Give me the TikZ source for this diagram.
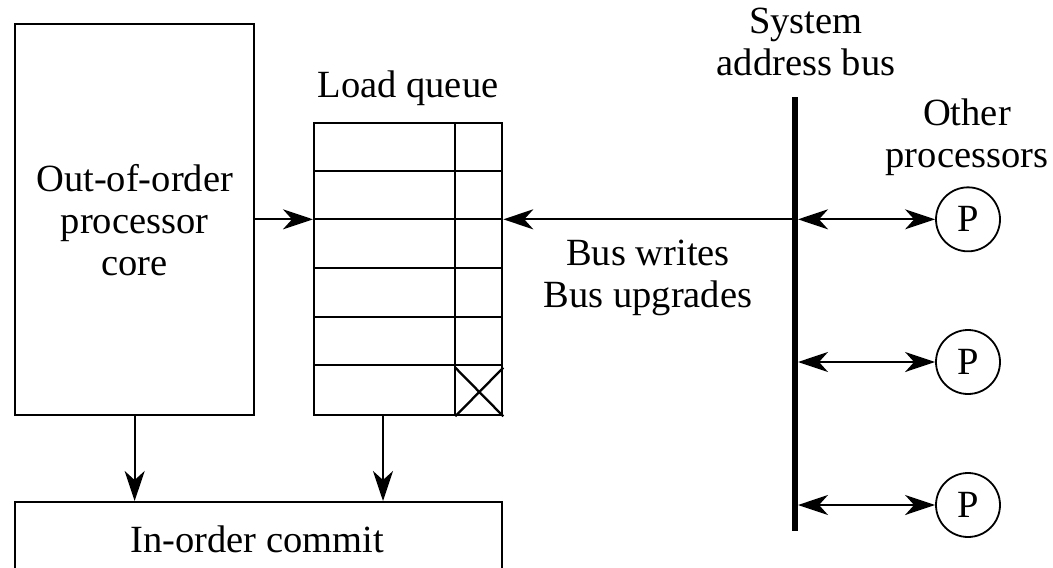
\documentclass[tikz,border=0pt]{standalone}
\usepackage{fontspec}
\setmainfont{Liberation Serif}
\usetikzlibrary{arrows.meta,calc}
\begin{document}
\begin{tikzpicture}[x=1pt,y=-1pt,
  line width=2.3pt,
  box/.style={draw, line width=2.3pt, inner sep=0pt, anchor=north west},
  tipa/.tip={Stealth[length=30pt,width=20pt,inset=9pt]},
  arr/.style={-tipa, line width=2.3pt},
  darr/.style={tipa-tipa, line width=2.3pt},
  lbl/.style={align=center, inner sep=0pt, font=\fontsize{38.5}{42}\selectfont},
  proc/.style={circle, draw, line width=1.8pt, minimum size=64pt, inner sep=0pt, font=\fontsize{38.5}{42}\selectfont}]
\useasboundingbox (0,0) rectangle (1053,568);
\clip (0,0) rectangle (1053,568);
% core
\node[box, minimum width=239pt, minimum height=391pt] (core) at (14,23) {};
\node[lbl] (coretext) at (core.center) {Out-of-order\\processor\\core};
% load queue
\node[box, minimum width=188pt, minimum height=292pt] (queue) at (313,122) {};
\foreach \i in {1,...,5}
  \draw ($(queue.north west)+(0,\i*48.667)$) -- ($(queue.north east)+(0,\i*48.667)$);
\draw ($(queue.north east)+(-48,0)$) -- ($(queue.south east)+(-48,0)$);
\draw ($(queue.south east)+(-48,-48.667)$) -- (queue.south east);
\draw ($(queue.south east)+(0,-48.667)$) -- ($(queue.south east)+(-48,0)$);
\node[lbl, anchor=base] (lq) at (408,97) {Load queue};
\coordinate (qrow) at ($(queue.north west)+(0,97.33)$);
% commit
\node[box, minimum width=487pt, minimum height=150pt] (commit) at (14,501) {};
\node[lbl, anchor=base] (ct) at (257,552) {In-order commit};
% arrows core/queue
\draw[arr] (core.east |- qrow) -- (qrow);
\draw[arr] (core.south) -- (core.south |- commit.north);
\coordinate (qbot) at ($(queue.south west)+(70,0)$);
\draw[arr] (qbot) -- (qbot |- commit.north);
% bus
\coordinate (bustop) at (795,97);
\coordinate (busbot) at (795,531);
\draw[line width=6pt] (bustop) -- (busbot);
\node[lbl, anchor=base] (sys) at (806,75) {System\\address bus};
\draw[arr] (bustop |- qrow) -- (queue.east |- qrow);
\node[lbl, anchor=base] (bw) at (648,307) {Bus writes\\Bus upgrades};
% processors
\node[lbl, anchor=base] (oth) at (967,167) {Other\\processors};
\node[proc] (p1) at (968,219.33) {P};
\node[proc] (p2) at (968,362) {P};
\node[proc] (p3) at (968,505) {P};
\foreach \p in {p1,p2,p3}
  \draw[darr] ($(bustop |- \p)+(3,0)$) -- (\p.west);
\end{tikzpicture}
\end{document}
